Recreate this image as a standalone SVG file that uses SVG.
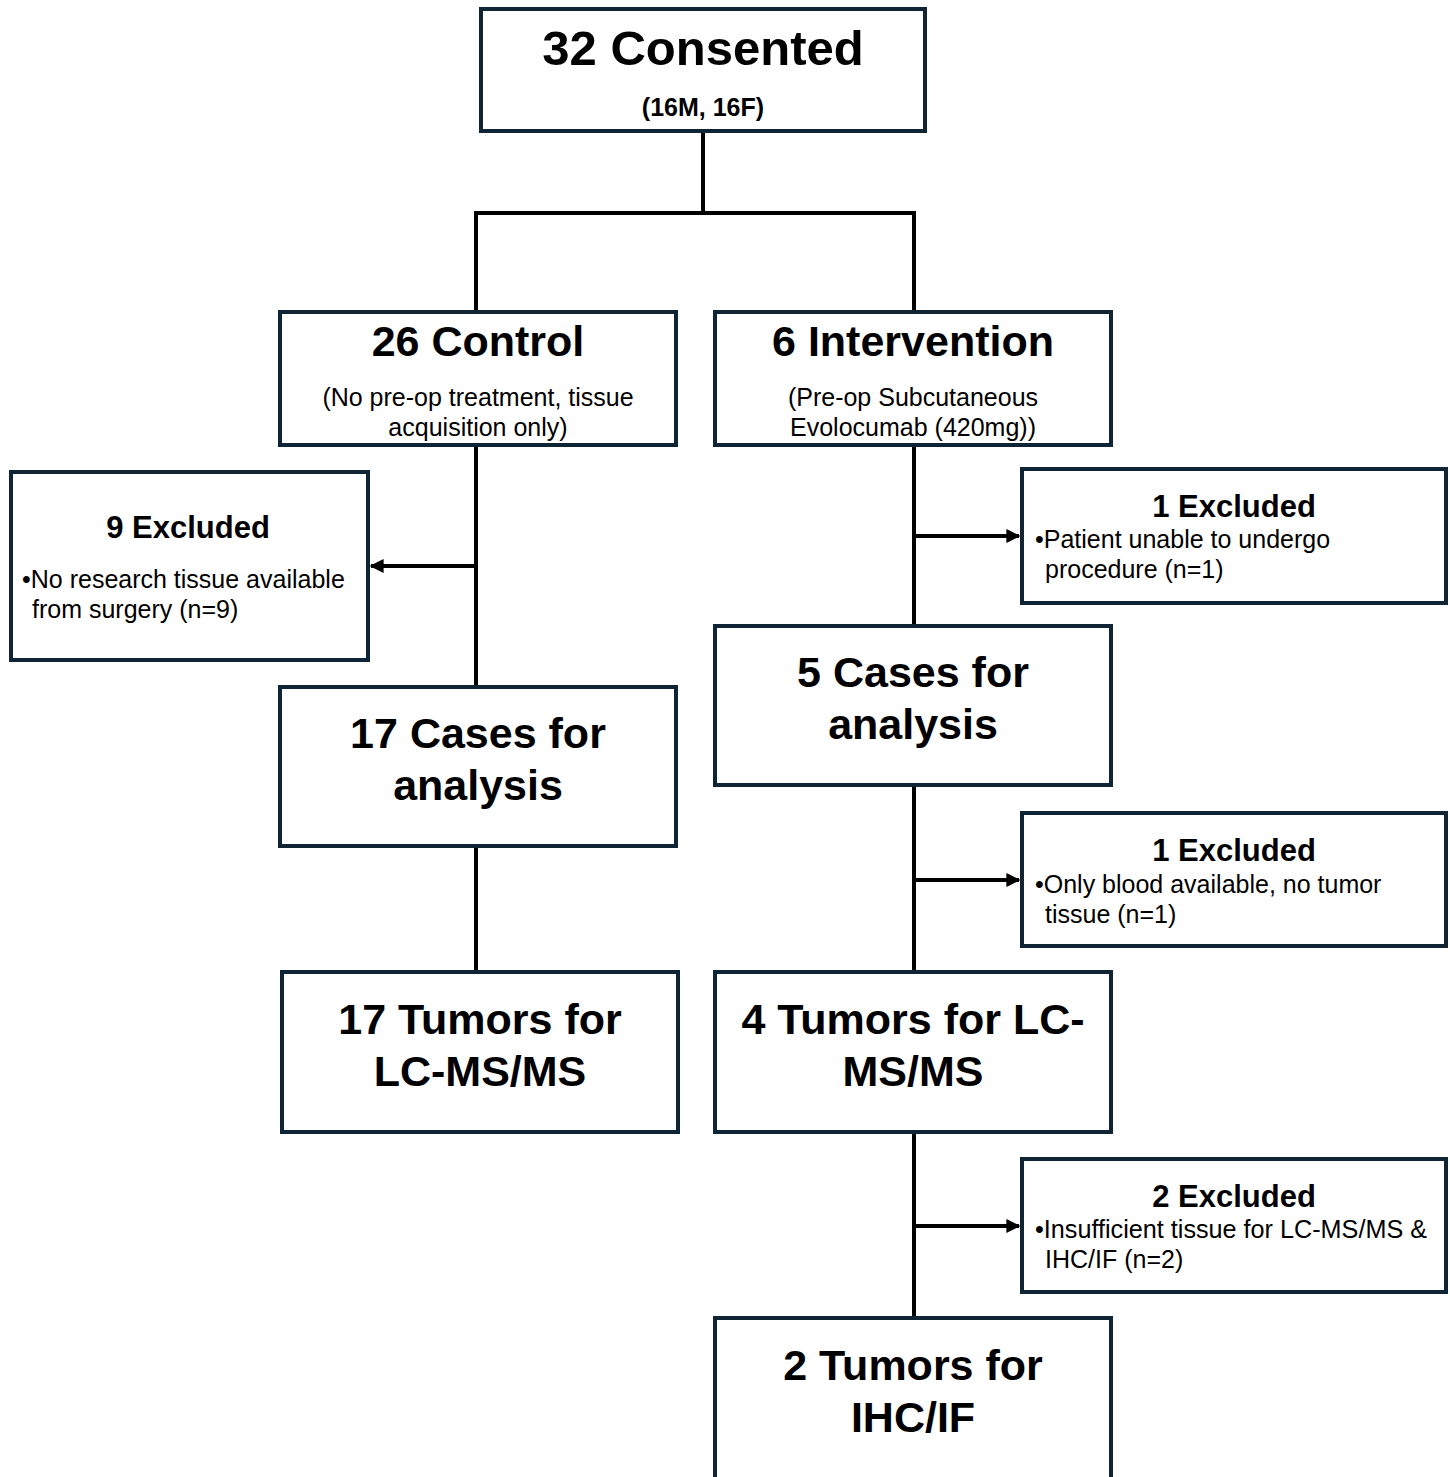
<svg xmlns="http://www.w3.org/2000/svg" width="1450" height="1477" viewBox="0 0 1450 1477">
<style>
.box{fill:#fff;stroke:#0f2535;stroke-width:4}
.ln{stroke:#000;stroke-width:4;fill:none}
text{font-family:"Liberation Sans",Arial,sans-serif;fill:#000}
.t1{font-size:49px;font-weight:bold;text-anchor:middle}
.t2{font-size:43px;font-weight:bold;text-anchor:middle}
.t3{font-size:31px;font-weight:bold;text-anchor:middle}
.sb{font-size:25px;font-weight:bold;text-anchor:middle}
.s{font-size:25px;text-anchor:middle}
.b{font-size:25px}
</style>
<defs>
<marker id="ah" viewBox="0 0 10 10" refX="9" refY="5" markerWidth="3.5" markerHeight="3.5" orient="auto" markerUnits="strokeWidth">
<path d="M0,0 L10,5 L0,10 z" fill="#000"/>
</marker>
</defs>
<g id="connectors">
<path class="ln" d="M703,131 V213 M476,213 H914 M476,211 V312 M914,211 V312"/>
<path class="ln" d="M476,445 V687"/>
<path class="ln" d="M476,566 H371" marker-end="url(#ah)"/>
<path class="ln" d="M476,846 V972"/>
<path class="ln" d="M914,445 V626"/>
<path class="ln" d="M914,536 H1019" marker-end="url(#ah)"/>
<path class="ln" d="M914,785 V972"/>
<path class="ln" d="M914,880 H1019" marker-end="url(#ah)"/>
<path class="ln" d="M914,1132 V1318"/>
<path class="ln" d="M914,1226 H1019" marker-end="url(#ah)"/>
</g>
<g id="consented">
<rect class="box" x="481" y="9" width="444" height="122"/>
<text class="t1" x="703" y="65">32 Consented</text>
<text class="sb" x="703" y="116">(16M, 16F)</text>
</g>
<g id="control">
<rect class="box" x="280" y="312" width="396" height="133"/>
<text class="t2" x="478" y="356">26 Control</text>
<text class="s" x="478" y="406">(No pre-op treatment, tissue</text>
<text class="s" x="478" y="436">acquisition only)</text>
</g>
<g id="intervention">
<rect class="box" x="715" y="312" width="396" height="133"/>
<text class="t2" x="913" y="356">6 Intervention</text>
<text class="s" x="913" y="406">(Pre-op Subcutaneous</text>
<text class="s" x="913" y="436">Evolocumab (420mg))</text>
</g>
<g id="excluded9">
<rect class="box" x="11" y="472" width="357" height="188"/>
<text class="t3" x="188" y="538">9 Excluded</text>
<text class="b" x="22" y="588">•No research tissue available</text>
<text class="b" x="32" y="618">from surgery (n=9)</text>
</g>
<g id="excluded1a">
<rect class="box" x="1022" y="469" width="424" height="134"/>
<text class="t3" x="1234" y="517">1 Excluded</text>
<text class="b" x="1035" y="548">•Patient unable to undergo</text>
<text class="b" x="1045" y="578">procedure (n=1)</text>
</g>
<g id="cases17">
<rect class="box" x="280" y="687" width="396" height="159"/>
<text class="t2" x="478" y="748">17 Cases for</text>
<text class="t2" x="478" y="800">analysis</text>
</g>
<g id="cases5">
<rect class="box" x="715" y="626" width="396" height="159"/>
<text class="t2" x="913" y="687">5 Cases for</text>
<text class="t2" x="913" y="739">analysis</text>
</g>
<g id="excluded1b">
<rect class="box" x="1022" y="813" width="424" height="133"/>
<text class="t3" x="1234" y="861">1 Excluded</text>
<text class="b" x="1035" y="893">•Only blood available, no tumor</text>
<text class="b" x="1045" y="923">tissue (n=1)</text>
</g>
<g id="tumors17">
<rect class="box" x="282" y="972" width="396" height="160"/>
<text class="t2" x="480" y="1034">17 Tumors for</text>
<text class="t2" x="480" y="1086">LC-MS/MS</text>
</g>
<g id="tumors4">
<rect class="box" x="715" y="972" width="396" height="160"/>
<text class="t2" x="913" y="1034">4 Tumors for LC-</text>
<text class="t2" x="913" y="1086">MS/MS</text>
</g>
<g id="excluded2">
<rect class="box" x="1022" y="1159" width="424" height="133"/>
<text class="t3" x="1234" y="1207">2 Excluded</text>
<text class="b" x="1035" y="1238" textLength="392" lengthAdjust="spacingAndGlyphs">•Insufficient tissue for LC-MS/MS &amp;</text>
<text class="b" x="1045" y="1268">IHC/IF (n=2)</text>
</g>
<g id="tumors2">
<rect class="box" x="715" y="1318" width="396" height="165"/>
<text class="t2" x="913" y="1380">2 Tumors for</text>
<text class="t2" x="913" y="1432">IHC/IF</text>
</g>
</svg>
